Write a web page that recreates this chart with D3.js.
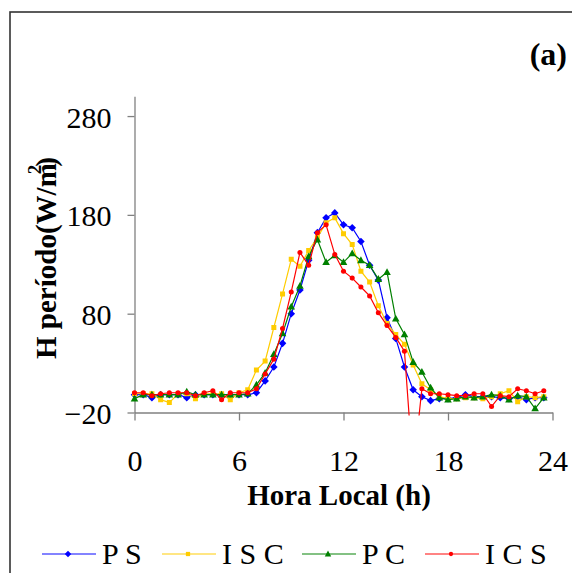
<!DOCTYPE html>
<html>
<head>
<meta charset="utf-8">
<script src="https://cdn.jsdelivr.net/npm/d3@7"></script>
<style>
  body { margin: 0; background: #fff; }
  svg { display: block; }
</style>
</head>
<body>
<div id="chart"></div>
<script>
// hours of day (half-hour steps)
const hours = [0, 0.5, 1, 1.5, 2, 2.5, 3, 3.5, 4, 4.5, 5, 5.5, 6, 6.5, 7, 7.5, 8, 8.5, 9, 9.5,
       10, 10.5, 11, 11.5, 12, 12.5, 13, 13.5, 14, 14.5, 15, 15.5, 16, 16.5, 17, 17.5, 18, 18.5, 19, 19.5,
       20, 20.5, 21, 21.5, 22, 22.5, 23, 23.5];

const ps = [-2, -2, -5, -2, -2, -2, -5, -2, -2, -2, -2, -2, -2, -2, 0, 12, 26, 50, 80, 104,
       134, 162, 177, 182, 170, 167, 153, 129, 114, 76, 55, 26, 3, -4, -8, -6, -6, -5, -2, -4,
       -4, -4, -5, -6, -4, -7, -5, -5];
const isc = [-1, -1, -1, -7, -10, -1, -1, -6, -1, -1, -1, -7, 0, 3, 23, 32, 66, 100, 135, 128,
       144, 157, 172, 177, 161, 150, 123, 112, 88, 70, 59, 49, 28, 9, 3, -4, -6, -6, -5, -5,
       -6, -4, -1, 2, -9, -4, -5, -4];
const pc = [-6, -2, -2, -2, -2, -2, 1, -2, -2, -2, -2, -2, -2, -1, 8, 20, 39, 60, 87, 108,
       138, 155, 132, 139, 132, 141, 134, 129, 115, 122, 75, 59, 31, 21, 5, -5, -7, -6, -4, -5,
       -4, -2, -3, -7, -3, -4, -16, -5];
const ics = [0, 0, -3, -1, 0, 0, 0, -3, 0, 2, -7, 0, 0, 0, 4, 19, 34, 65, 102, 142,
       129, 162, 170, 140, 123, 116, 107, 98, 81, 68, 56, 42, -80, 4, -1, -1, -2, -3, -3, -1,
       -1, -14, -3, -4, 4, 2, -1, 2];

const seriesNames = ["P S", "I S C", "P C", "I C S"];
const seriesColors = ["#0000ff", "#ffcc00", "#008000", "#ff0000"];
const seriesMarkers = ["diamond", "square", "triangle", "circle"];
const seriesValues = [ps, isc, pc, ics];

const xTicks = [0, 6, 12, 18, 24];
const yTicks = [-20, 80, 180, 280];

const width = 572, height = 573;
const font = "'Liberation Serif', 'Times New Roman', serif";

const svg = d3.select("#chart").append("svg")
       .attr("width", width)
       .attr("height", height);

// outer frame (right/bottom edges fall outside the picture)
svg.append("rect")
       .attr("x", 10).attr("y", 12)
       .attr("width", 600).attr("height", 600)
       .attr("fill", "none")
       .attr("stroke", "#333")
       .attr("stroke-width", 1.6);

const x = d3.scaleLinear().domain([0, 24]).range([134.5, 552.5]);
const y = d3.scaleLinear().domain([-20, 300]).range([412.5, 96.3]);

svg.append("defs").append("clipPath")
       .attr("id", "plot-clip")
       .append("rect")
       .attr("x", x(0) - 5).attr("y", y(300))
       .attr("width", x(24) - x(0) + 10)
       .attr("height", y(-20) - y(300) + 3);

// axes
const xAxis = svg.append("g")
       .attr("transform", `translate(0,${y(-20)})`)
       .call(d3.axisBottom(x).tickValues(xTicks).tickSize(8).tickSizeOuter(0));

const yAxis = svg.append("g")
       .attr("transform", `translate(${x(0)},0)`)
       .call(d3.axisLeft(y).tickValues(yTicks).tickSize(7).tickSizeOuter(0));

[xAxis, yAxis].forEach(g => {
       g.selectAll("path, line").attr("stroke", "#808080").attr("stroke-width", 1.3);
       g.selectAll("text")
              .style("font-family", font)
              .style("font-size", "30px")
              .attr("fill", "#000");
});
xAxis.selectAll("text").attr("y", 58).attr("dy", 0);
yAxis.selectAll("text").attr("x", -23).attr("dy", 11);

// axis titles
svg.append("text")
       .attr("x", 339).attr("y", 505)
       .attr("text-anchor", "middle")
       .style("font-family", font)
       .style("font-size", "29px")
       .style("font-weight", "bold")
       .text("Hora Local (h)");

const yTitle = svg.append("text")
       .attr("transform", "translate(56,258) rotate(-90)")
       .attr("text-anchor", "middle")
       .style("font-family", font)
       .style("font-size", "29px")
       .style("font-weight", "bold");
yTitle.append("tspan").text("H período(W/m");
yTitle.append("tspan").attr("dx", -11).attr("dy", -15).style("font-size", "19px").text("2");
yTitle.append("tspan").attr("dx", -2).attr("dy", 15).text(")");

// panel label
svg.append("text")
       .attr("x", 567).attr("y", 65)
       .attr("text-anchor", "end")
       .style("font-family", font)
       .style("font-size", "32px")
       .style("font-weight", "bold")
       .text("(a)");

// marker shapes
function markerPath(type, k = 1) {
       switch (type) {
              case "diamond": return `M0,${-3.8 * k}L${3.8 * k},0L0,${3.8 * k}L${-3.8 * k},0Z`;
              case "square": return `M${-2.5 * k},${-2.5 * k}H${2.5 * k}V${2.5 * k}H${-2.5 * k}Z`;
              case "triangle": return `M0,${-4 * k}L${3.8 * k},${2.8 * k}H${-3.8 * k}Z`;
              default: return d3.symbol().type(d3.symbolCircle).size(20 * k * k)();
       }
}

const plot = svg.append("g").attr("clip-path", "url(#plot-clip)");

const line = d3.line()
       .x(d => x(d[0]))
       .y(d => y(d[1]));

seriesValues.forEach((vals, i) => {
       const pts = hours.map((h, j) => [h, vals[j]]);
       plot.append("path")
              .datum(pts)
              .attr("d", line)
              .attr("fill", "none")
              .attr("stroke", seriesColors[i])
              .attr("stroke-width", 1.2);
       plot.selectAll(`.mk${i}`)
              .data(pts)
              .enter()
              .append("path")
              .attr("class", `mk${i}`)
              .attr("transform", d => `translate(${x(d[0])},${y(d[1])})`)
              .attr("d", markerPath(seriesMarkers[i]))
              .attr("fill", seriesColors[i]);
});

// legend
const legendX = [42, 162, 302, 425];
const legend = svg.append("g");
seriesNames.forEach((name, i) => {
       const g = legend.append("g").attr("transform", `translate(${legendX[i]},554)`);
       g.append("line")
              .attr("x1", 0).attr("x2", 54)
              .attr("stroke", seriesColors[i])
              .attr("stroke-opacity", 0.65)
              .attr("stroke-width", 1.6);
       g.append("path")
              .attr("transform", "translate(26,0)")
              .attr("d", markerPath(seriesMarkers[i], 0.85))
              .attr("fill", seriesColors[i]);
       g.append("text")
              .attr("x", 60).attr("y", 9.5)
              .style("font-family", font)
              .style("font-size", "30px")
              .text(name);
});
</script>
</body>
</html>
